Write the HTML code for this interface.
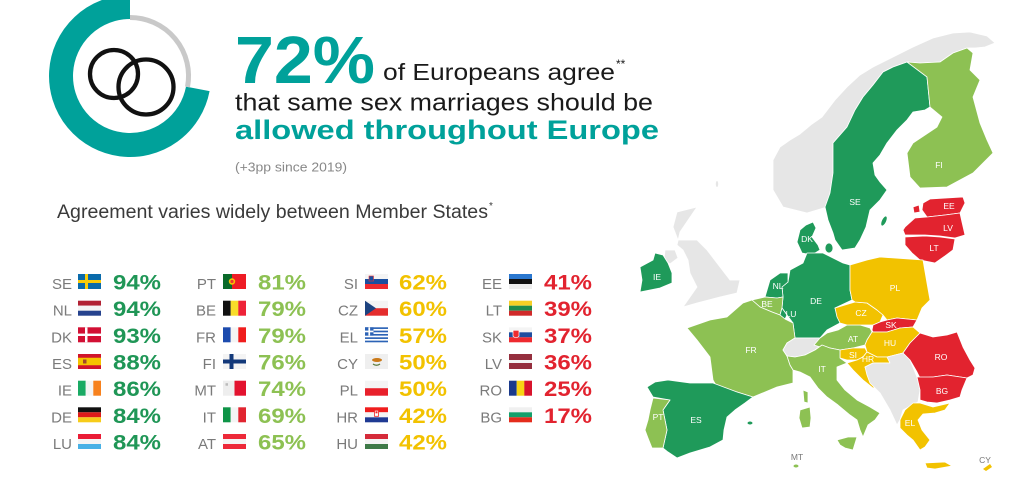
<!DOCTYPE html>
<html><head><meta charset="utf-8"><style>
html,body{margin:0;padding:0;background:#fff;}
svg{display:block;}
.c{font-family:"Liberation Sans",sans-serif;font-size:15px;fill:#7a7a7a;text-anchor:end;}
.p{font-family:"Liberation Sans",sans-serif;font-size:21px;font-weight:bold;}
.g1{fill:#1f9656}.g2{fill:#8dc153}.y{fill:#f2c200}.r{fill:#e2232f}
.m{stroke:#fff;stroke-width:0.8;stroke-linejoin:round;}
.l{font-family:"Liberation Sans",sans-serif;font-size:8.5px;fill:#fff;text-anchor:middle;}
.lg{font-family:"Liberation Sans",sans-serif;font-size:8.5px;fill:#777;text-anchor:middle;}
</style></head><body>
<svg width="1024" height="495" viewBox="0 0 1024 495" xmlns="http://www.w3.org/2000/svg">
<rect width="1024" height="495" fill="#fff"/>
<!-- donut -->
<path d="M130 7 A69 69 0 1 0 197.8 88.9" fill="none" stroke="#00a19a" stroke-width="24"/>
<path d="M130 17.5 A58.5 58.5 0 0 1 187.5 87" fill="none" stroke="#c9c9c9" stroke-width="5"/>
<circle cx="114" cy="74" r="24" fill="none" stroke="#111" stroke-width="4.3"/>
<circle cx="146" cy="87" r="27.5" fill="none" stroke="#111" stroke-width="4.3"/>
<!-- headline -->
<g font-family="Liberation Sans, sans-serif">
<text x="235" y="83" font-size="67" font-weight="bold" fill="#00a19a" textLength="140" lengthAdjust="spacingAndGlyphs">72%</text>
<text x="383" y="80" font-size="23" fill="#1a1a1a" textLength="232" lengthAdjust="spacingAndGlyphs">of Europeans agree</text>
<text x="616" y="68" font-size="12" fill="#1a1a1a">**</text>
<text x="235" y="110.5" font-size="24.5" fill="#1a1a1a" textLength="418" lengthAdjust="spacingAndGlyphs">that same sex marriages should be</text>
<text x="235" y="139" font-size="27" font-weight="bold" fill="#00a19a" textLength="424" lengthAdjust="spacingAndGlyphs">allowed throughout Europe</text>
<text x="235" y="171.5" font-size="13" fill="#888" textLength="112" lengthAdjust="spacingAndGlyphs">(+3pp since 2019)</text>
<text x="57" y="218" font-size="19" fill="#3a3a3a" textLength="431" lengthAdjust="spacingAndGlyphs">Agreement varies widely between Member States</text>
<text x="489" y="209" font-size="10" fill="#3a3a3a">*</text>
</g>
<!-- table column 1 -->
<g>
<text class="c" x="72" y="289">SE</text><text class="c" x="72" y="315.7">NL</text><text class="c" x="72" y="342.3">DK</text><text class="c" x="72" y="369">ES</text><text class="c" x="72" y="395.7">IE</text><text class="c" x="72" y="422.3">DE</text><text class="c" x="72" y="449">LU</text>
<text class="p g1" x="113" y="289.5" textLength="48" lengthAdjust="spacingAndGlyphs">94%</text>
<text class="p g1" x="113" y="316.2" textLength="48" lengthAdjust="spacingAndGlyphs">94%</text>
<text class="p g1" x="113" y="342.8" textLength="48" lengthAdjust="spacingAndGlyphs">93%</text>
<text class="p g1" x="113" y="369.5" textLength="48" lengthAdjust="spacingAndGlyphs">88%</text>
<text class="p g1" x="113" y="396.2" textLength="48" lengthAdjust="spacingAndGlyphs">86%</text>
<text class="p g1" x="113" y="422.8" textLength="48" lengthAdjust="spacingAndGlyphs">84%</text>
<text class="p g1" x="113" y="449.5" textLength="48" lengthAdjust="spacingAndGlyphs">84%</text>
<g transform="translate(78,274)"><rect width="23" height="15" fill="#0a6bab"/><rect x="7" width="3" height="15" fill="#f9cc0a"/><rect y="6" width="23" height="3" fill="#f9cc0a"/></g>
<g transform="translate(78,300.7)"><rect width="23" height="5" fill="#b22234"/><rect y="5" width="23" height="5" fill="#f4f4f4"/><rect y="10" width="23" height="5" fill="#26438e"/></g>
<g transform="translate(78,327.3)"><rect width="23" height="15" fill="#d21034"/><rect x="7" width="2.5" height="15" fill="#fff"/><rect y="6.3" width="23" height="2.4" fill="#fff"/></g>
<g transform="translate(78,354)"><rect width="23" height="15" fill="#d0142b"/><rect y="3.75" width="23" height="7.5" fill="#f5c400"/><rect x="5" y="5.5" width="3.5" height="4" fill="#a04a2a"/></g>
<g transform="translate(78,380.7)"><rect width="7.7" height="15" fill="#1aaa64"/><rect x="7.7" width="7.7" height="15" fill="#f4f4f4"/><rect x="15.3" width="7.7" height="15" fill="#f7811d"/></g>
<g transform="translate(78,407.3)"><rect width="23" height="5" fill="#111"/><rect y="5" width="23" height="5" fill="#dd1b1b"/><rect y="10" width="23" height="5" fill="#f7cc1a"/></g>
<g transform="translate(78,434)"><rect width="23" height="5" fill="#ea1c36"/><rect y="5" width="23" height="5" fill="#f4f4f4"/><rect y="10" width="23" height="5" fill="#48b1e6"/></g>
</g>
<!-- column 2 -->
<g>
<text class="c" x="216" y="289">PT</text><text class="c" x="216" y="315.7">BE</text><text class="c" x="216" y="342.3">FR</text><text class="c" x="216" y="369">FI</text><text class="c" x="216" y="395.7">MT</text><text class="c" x="216" y="422.3">IT</text><text class="c" x="216" y="449">AT</text>
<text class="p g2" x="258" y="289.5" textLength="48" lengthAdjust="spacingAndGlyphs">81%</text>
<text class="p g2" x="258" y="316.2" textLength="48" lengthAdjust="spacingAndGlyphs">79%</text>
<text class="p g2" x="258" y="342.8" textLength="48" lengthAdjust="spacingAndGlyphs">79%</text>
<text class="p g2" x="258" y="369.5" textLength="48" lengthAdjust="spacingAndGlyphs">76%</text>
<text class="p g2" x="258" y="396.2" textLength="48" lengthAdjust="spacingAndGlyphs">74%</text>
<text class="p g2" x="258" y="422.8" textLength="48" lengthAdjust="spacingAndGlyphs">69%</text>
<text class="p g2" x="258" y="449.5" textLength="48" lengthAdjust="spacingAndGlyphs">65%</text>
<g transform="translate(223,274)"><rect width="9" height="15" fill="#0a6a2a"/><rect x="9" width="14" height="15" fill="#ee1c25"/><circle cx="9" cy="7.5" r="3.2" fill="#f5c400"/><circle cx="9" cy="7.5" r="1.6" fill="#e33"/></g>
<g transform="translate(223,300.7)"><rect width="7.7" height="15" fill="#111"/><rect x="7.7" width="7.7" height="15" fill="#f8dc2a"/><rect x="15.3" width="7.7" height="15" fill="#ee2338"/></g>
<g transform="translate(223,327.3)"><rect width="7.7" height="15" fill="#1d4bae"/><rect x="7.7" width="7.7" height="15" fill="#f4f4f4"/><rect x="15.3" width="7.7" height="15" fill="#f01d1d"/></g>
<g transform="translate(223,354)"><rect width="23" height="15" fill="#f4f4f4"/><rect x="6.5" width="4" height="15" fill="#13397a"/><rect y="5.5" width="23" height="4" fill="#13397a"/></g>
<g transform="translate(223,380.7)"><rect width="11.5" height="15" fill="#eee"/><rect x="11.5" width="11.5" height="15" fill="#e3132f"/><rect x="2.5" y="2.5" width="2.5" height="2.5" fill="#bbb"/></g>
<g transform="translate(223,407.3)"><rect width="7.7" height="15" fill="#0e9447"/><rect x="7.7" width="7.7" height="15" fill="#f4f4f4"/><rect x="15.3" width="7.7" height="15" fill="#e12530"/></g>
<g transform="translate(223,434)"><rect width="23" height="5" fill="#ed2939"/><rect y="5" width="23" height="5" fill="#f4f4f4"/><rect y="10" width="23" height="5" fill="#ed2939"/></g>
</g>
<!-- column 3 -->
<g>
<text class="c" x="358" y="289">SI</text><text class="c" x="358" y="315.7">CZ</text><text class="c" x="358" y="342.3">EL</text><text class="c" x="358" y="369">CY</text><text class="c" x="358" y="395.7">PL</text><text class="c" x="358" y="422.3">HR</text><text class="c" x="358" y="449">HU</text>
<text class="p y" x="399" y="289.5" textLength="48" lengthAdjust="spacingAndGlyphs">62%</text>
<text class="p y" x="399" y="316.2" textLength="48" lengthAdjust="spacingAndGlyphs">60%</text>
<text class="p y" x="399" y="342.8" textLength="48" lengthAdjust="spacingAndGlyphs">57%</text>
<text class="p y" x="399" y="369.5" textLength="48" lengthAdjust="spacingAndGlyphs">50%</text>
<text class="p y" x="399" y="396.2" textLength="48" lengthAdjust="spacingAndGlyphs">50%</text>
<text class="p y" x="399" y="422.8" textLength="48" lengthAdjust="spacingAndGlyphs">42%</text>
<text class="p y" x="399" y="449.5" textLength="48" lengthAdjust="spacingAndGlyphs">42%</text>
<g transform="translate(365,274)"><rect width="23" height="5" fill="#f4f4f4"/><rect y="5" width="23" height="5" fill="#1a4fa0"/><rect y="10" width="23" height="5" fill="#ee2a2f"/><rect x="4" y="2" width="4.5" height="5" fill="#1a4fa0" stroke="#e33" stroke-width="0.6"/></g>
<g transform="translate(365,300.7)"><rect width="23" height="7.5" fill="#f4f4f4"/><rect y="7.5" width="23" height="7.5" fill="#e42d2d"/><polygon points="0,0 11,7.5 0,15" fill="#1d4380"/></g>
<g transform="translate(365,327.3)"><rect width="23" height="15" fill="#2c63b6"/><rect y="1.67" width="23" height="1.67" fill="#fff"/><rect y="5" width="23" height="1.67" fill="#fff"/><rect y="8.33" width="23" height="1.67" fill="#fff"/><rect y="11.67" width="23" height="1.67" fill="#fff"/><rect width="8.5" height="8.3" fill="#2c63b6"/><rect x="3.4" width="1.7" height="8.3" fill="#fff"/><rect y="3.3" width="8.5" height="1.7" fill="#fff"/></g>
<g transform="translate(365,354)"><rect width="23" height="15" fill="#efefef"/><ellipse cx="12" cy="6" rx="5" ry="2" fill="#cb7a1a"/><path d="M8 10 Q11.5 12.5 15 10" fill="none" stroke="#5a7a3a" stroke-width="1.2"/></g>
<g transform="translate(365,380.7)"><rect width="23" height="7.5" fill="#f4f4f4"/><rect y="7.5" width="23" height="7.5" fill="#e8202b"/></g>
<g transform="translate(365,407.3)"><rect width="23" height="5" fill="#f01d1d"/><rect y="5" width="23" height="5" fill="#f4f4f4"/><rect y="10" width="23" height="5" fill="#1f3a93"/><rect x="9.5" y="3" width="4" height="6" fill="#fff" stroke="#e22" stroke-width="0.8"/><rect x="10.5" y="4" width="2" height="2" fill="#e22"/></g>
<g transform="translate(365,434)"><rect width="23" height="5" fill="#d52b3a"/><rect y="5" width="23" height="5" fill="#f4f4f4"/><rect y="10" width="23" height="5" fill="#3f7a48"/></g>
</g>
<!-- column 4 -->
<g>
<text class="c" x="502" y="289">EE</text><text class="c" x="502" y="315.7">LT</text><text class="c" x="502" y="342.3">SK</text><text class="c" x="502" y="369">LV</text><text class="c" x="502" y="395.7">RO</text><text class="c" x="502" y="422.3">BG</text>
<text class="p r" x="544" y="289.5" textLength="48" lengthAdjust="spacingAndGlyphs">41%</text>
<text class="p r" x="544" y="316.2" textLength="48" lengthAdjust="spacingAndGlyphs">39%</text>
<text class="p r" x="544" y="342.8" textLength="48" lengthAdjust="spacingAndGlyphs">37%</text>
<text class="p r" x="544" y="369.5" textLength="48" lengthAdjust="spacingAndGlyphs">36%</text>
<text class="p r" x="544" y="396.2" textLength="48" lengthAdjust="spacingAndGlyphs">25%</text>
<text class="p r" x="544" y="422.8" textLength="48" lengthAdjust="spacingAndGlyphs">17%</text>
<g transform="translate(509,274)"><rect width="23" height="5" fill="#2a77cf"/><rect y="5" width="23" height="5" fill="#111"/><rect y="10" width="23" height="5" fill="#eee"/></g>
<g transform="translate(509,300.7)"><rect width="23" height="5" fill="#f7cf25"/><rect y="5" width="23" height="5" fill="#1f8a4c"/><rect y="10" width="23" height="5" fill="#d02a2a"/></g>
<g transform="translate(509,327.3)"><rect width="23" height="5" fill="#f4f4f4"/><rect y="5" width="23" height="5" fill="#1f4ea0"/><rect y="10" width="23" height="5" fill="#ee2a2f"/><path d="M4 3 H10 V9 Q7 12 4 9 Z" fill="#ee2a2f" stroke="#fff" stroke-width="0.7"/></g>
<g transform="translate(509,354)"><rect width="23" height="6" fill="#952f3e"/><rect y="6" width="23" height="3" fill="#f4f4f4"/><rect y="9" width="23" height="6" fill="#952f3e"/></g>
<g transform="translate(509,380.7)"><rect width="7.7" height="15" fill="#1b3a8c"/><rect x="7.7" width="7.7" height="15" fill="#f8d414"/><rect x="15.3" width="7.7" height="15" fill="#d8142c"/></g>
<g transform="translate(509,407.3)"><rect width="23" height="5" fill="#f0f0f0"/><rect y="5" width="23" height="5" fill="#13a06b"/><rect y="10" width="23" height="5" fill="#e42c1c"/></g>
</g>
<!-- MAP -->
<g class="m">
<polygon fill="#e6e6e6" points="783,207 773,190 773,160 780,147 790,140 800,134 812,124 822,117 835,100 847,87 860,75 873,67 893,57 913,47 933,38 953,33 970,32 987,36 995,43 985,47 975,48 967,48 953,53 940,62 920,63 907,62 893,67 883,72 873,85 863,97 855,110 847,127 833,143 833,173 830,193 827,207 807,213"/>
<polygon fill="#e6e6e6" points="697,207 677,212 673,227 678,240 697,240 707,250 720,267 730,280 740,280 737,293 720,297 697,303 683,307 690,297 697,287 690,273 688,260 683,250 677,245 680,232"/>
<polygon fill="#e6e6e6" points="665,250 675,250 678,258 670,264 664,260"/>
<ellipse cx="717" cy="184" rx="1.2" ry="3" fill="#e6e6e6" stroke="none"/>
<polygon fill="#1f9a5a" points="907,62 920,66 927,77 930,107 925,110 913,112 907,120 897,130 887,143 880,155 873,163 875,175 880,182 887,190 880,200 870,210 866,227 860,240 855,248 842,250 835,240 833,233 828,220 825,207 830,193 833,173 833,143 847,127 855,110 863,97 873,85 883,72 893,67"/>
<ellipse cx="884" cy="221" rx="2" ry="5" fill="#1f9a5a" stroke="none" transform="rotate(25 884 221)"/>
<polygon fill="#8dc153" points="907,62 920,63 940,62 953,53 967,48 973,53 970,70 980,80 973,97 980,123 987,140 993,153 973,173 947,187 920,188 910,177 907,153 913,143 937,127 942,117 930,107 927,77"/>
<polygon fill="#e2232f" points="923,203 930,199 963,197 965,203 960,213 945,215 927,217 922,210"/>
<polygon fill="#e2232f" points="913,207 919,205 920,212 914,213"/>
<polygon fill="#e2232f" points="905,227 915,218 927,217 945,215 960,213 962,222 965,235 955,238 940,236 925,235 905,235 903,230"/>
<polygon fill="#e2232f" points="905,237 925,236 940,237 955,239 953,250 945,256 935,263 920,260 912,253 905,245"/>
<polygon fill="#1f9a5a" points="800,230 806,225 813,222 816,228 812,237 818,245 820,250 812,255 802,253 797,242"/>
<ellipse cx="829" cy="248" rx="4" ry="5" fill="#1f9a5a"/>
<polygon fill="#1f9a5a" points="640,267 653,260 655,253 663,255 668,263 672,273 672,283 660,288 640,292 642,280"/>
<polygon fill="#1f9a5a" points="790,270 803,263 807,253 823,253 843,263 850,265 850,290 852,300 835,308 840,323 827,330 820,338 807,338 795,338 793,323 787,315 782,308 783,297 782,287 788,282"/>
<polygon fill="#1f9a5a" points="765,297 770,280 780,273 788,273 788,282 782,287 783,297 777,298"/>
<polygon fill="#8dc153" points="752,300 765,297 777,298 783,297 782,308 780,315 772,312 760,307"/>
<polygon fill="#1f9a5a" points="780,315 782,308 787,315 785,319"/>
<polygon fill="#8dc153" points="752,300 760,307 772,312 780,315 785,319 793,323 795,338 787,343 783,350 787,356 790,365 793,370 793,383 777,387 753,397 737,392 717,387 713,380 710,357 697,340 687,328 710,320 727,317 743,303"/>
<polygon fill="#8dc153" points="803,390 808,392 808,403 804,402"/>
<polygon fill="#e6e6e6" points="783,350 787,343 795,338 807,338 820,338 822,345 815,350 805,355 795,357 787,356"/>
<polygon fill="#8dc153" points="814,345 820,338 827,333 838,330 847,325 860,325 870,328 872,332 867,340 865,345 853,348 840,350 830,348 820,347"/>
<polygon fill="#f2c200" points="835,308 855,302 867,303 877,310 883,315 880,322 873,325 860,325 847,325 840,323 837,317"/>
<polygon fill="#f2c200" points="850,265 867,260 880,257 923,260 927,283 930,300 922,308 917,320 897,318 887,320 883,315 877,310 867,303 855,302 852,300 850,290"/>
<polygon fill="#e2232f" points="872,330 873,325 880,322 887,320 897,318 917,320 913,327 900,328 887,332 873,332"/>
<polygon fill="#f2c200" points="872,332 887,332 900,328 913,327 920,333 910,343 903,353 887,357 877,357 867,352 865,345 867,340"/>
<polygon fill="#f2c200" points="840,350 853,348 865,348 867,352 863,357 857,360 847,360 840,358"/>
<polygon fill="#f2c200" points="863,357 867,352 877,357 887,357 890,363 873,363 865,367 870,377 877,387 873,388 863,380 853,370 847,363 857,360"/>
<polygon fill="#e6e6e6" points="865,367 873,363 890,363 887,357 903,353 910,360 917,377 920,390 918,402 903,410 900,420 897,425 890,410 880,393 870,383 867,375"/>
<polygon fill="#e2232f" points="903,353 910,343 920,333 933,337 947,335 957,332 963,347 970,360 975,368 973,375 967,378 947,375 933,377 920,378 917,372 910,360"/>
<polygon fill="#e2232f" points="917,377 933,377 947,375 967,378 962,390 960,397 950,400 937,403 927,402 920,400 920,390"/>
<polygon fill="#f2c200" points="900,420 905,410 913,403 920,403 933,407 950,403 945,410 935,413 923,414 918,420 922,430 930,440 925,447 920,450 913,440 907,435 900,428"/>
<polygon fill="#f2c200" points="925,463 945,462 952,466 935,469 927,468"/>
<polygon fill="#8dc153" points="787,356 795,357 805,355 815,350 822,345 830,348 840,350 840,358 847,363 837,367 837,380 845,390 857,400 870,407 880,413 875,420 868,425 863,437 860,430 857,420 850,415 838,405 827,397 818,388 810,377 800,372 793,370 790,365"/>
<polygon fill="#8dc153" points="837,440 848,437 857,437 853,450 845,448 840,445"/>
<polygon fill="#8dc153" points="800,410 810,407 811,418 810,427 802,428 799,418"/>
<polygon fill="#1f9a5a" points="647,387 655,382 668,380 690,383 713,383 737,392 753,397 745,403 735,410 727,417 724,430 723,440 710,447 690,453 677,458 668,452 663,448 667,430 663,410 670,400 653,397"/>
<ellipse cx="750" cy="423" rx="2.5" ry="1.5" fill="#1f9a5a" stroke="none"/>
<polygon fill="#8dc153" points="653,398 670,400 663,410 667,430 663,448 652,448 648,438 645,430 648,420 650,410"/>
<ellipse cx="796" cy="466" rx="2.5" ry="1.5" fill="#8dc153" stroke="none"/>
<polygon fill="#f2c200" stroke="none" points="983,469 990,464 992,467 986,471"/>
</g>
<g>
<text class="l" x="855" y="205">SE</text><text class="l" x="939" y="168">FI</text>
<text class="l" x="949" y="209">EE</text><text class="l" x="948" y="231">LV</text><text class="l" x="934" y="251">LT</text>
<text class="l" x="807" y="242">DK</text><text class="l" x="657" y="280">IE</text>
<text class="l" x="778" y="289">NL</text><text class="l" x="767" y="307">BE</text><text class="l" x="791" y="317">LU</text>
<text class="l" x="816" y="304">DE</text><text class="l" x="895" y="291">PL</text><text class="l" x="861" y="316">CZ</text>
<text class="l" x="891" y="328">SK</text><text class="l" x="853" y="342">AT</text><text class="l" x="890" y="346">HU</text>
<text class="l" x="853" y="358">SI</text><text class="l" x="868" y="362">HR</text><text class="l" x="941" y="360">RO</text>
<text class="l" x="942" y="394">BG</text><text class="l" x="751" y="353">FR</text><text class="l" x="822" y="372">IT</text>
<text class="l" x="696" y="423">ES</text><text class="l" x="658" y="420">PT</text><text class="l" x="910" y="426">EL</text>
<text class="lg" x="797" y="460">MT</text><text class="lg" x="985" y="463">CY</text>
</g>
</svg>
</body></html>
